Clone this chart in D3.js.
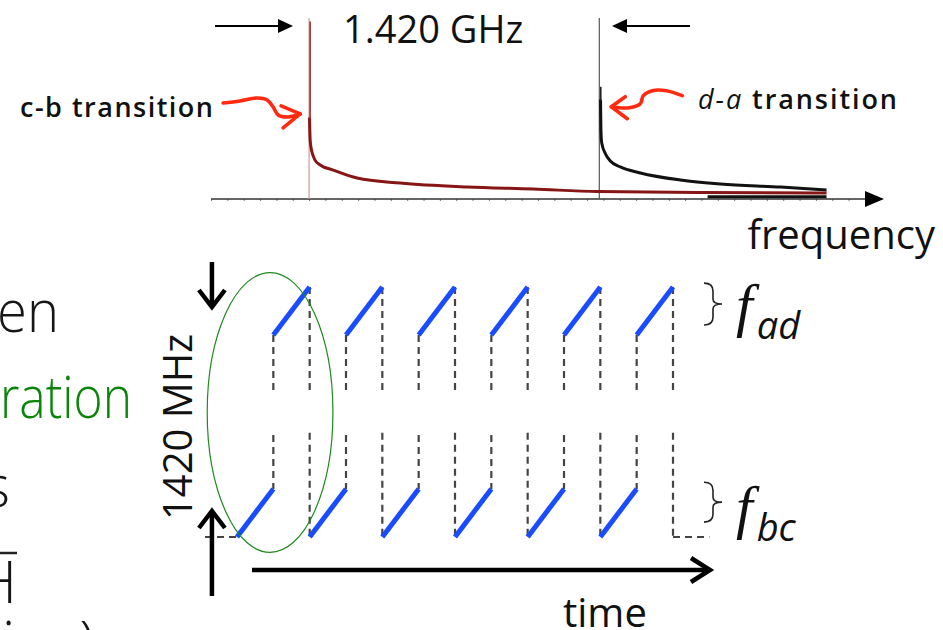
<!DOCTYPE html>
<html>
<head>
<meta charset="utf-8">
<script src="https://cdn.jsdelivr.net/npm/d3@7"></script>
<style>
  html, body { margin: 0; padding: 0; background: #fff; overflow: hidden; }
  svg { display: block; font-family: "Open Sans", sans-serif; }
</style>
</head>
<body>
<svg id="chart" width="943" height="630"></svg>
<script>
// ---- spectrum (top): frequency in GHz from the c-b line, amplitude normalised
const cbFreq = [0.002, 0.005, 0.010, 0.018, 0.029, 0.054, 0.118, 0.235, 0.446, 0.774, 1.097, 1.41, 1.915, 2.532];
const cbAmp  = [0.45, 0.33, 0.28, 0.245, 0.215, 0.188, 0.16, 0.116, 0.088, 0.066, 0.055, 0.041, 0.036, 0.033];
const daFreq = [1.426, 1.428, 1.432, 1.45, 1.474, 1.523, 1.621, 1.817, 2.013, 2.307, 2.532];
const daAmp  = [0.55, 0.38, 0.31, 0.25, 0.21, 0.177, 0.144, 0.105, 0.083, 0.066, 0.05];
const floorFreq = [1.95, 2.532];
const floorAmp  = [0.012, 0.012];
const lineFreqs  = [0, 1.42];
const lineColors = ["#d09a9a", "#555"];

// ---- sawtooth (bottom): time in half periods, frequency in band units
const bcSweeps = [0, 2, 4, 6, 8, 10];
const adSweeps = [1, 3, 5, 7, 9, 11];
const bcBand  = [0, 1];
const adBand  = [4.2, 5.2];
const gapBand = [2.12, 3.0];

const svg = d3.select("#chart");

// scales
const xF = d3.scaleLinear().domain([-0.48, 2.73]).range([211, 867]);
const yA = d3.scaleLinear().domain([0, 1]).range([199, 18]);
const xT = d3.scaleLinear().domain([0, 12]).range([237, 673]);
const yF = d3.scaleLinear().domain([0, 5.2]).range([537, 287]);

// ---------- top spectrum ----------
const spec = svg.append("g");

// small ticks on the frequency axis
spec.append("g")
    .attr("transform", `translate(0, ${yA(0)})`)
    .call(d3.axisBottom(xF).tickValues(d3.range(-0.48, 2.73, 0.08)).tickSize(2).tickFormat(""))
    .call(g => g.select(".domain").remove())
    .call(g => g.selectAll("line").attr("stroke", "#777"));

spec.append("line")
    .attr("x1", xF(-0.48)).attr("x2", xF(2.73))
    .attr("y1", yA(0)).attr("y2", yA(0))
    .attr("stroke", "#333").attr("stroke-width", 1.6);
spec.append("path")
    .attr("d", `M${xF(2.73) - 2},${yA(0) - 8} L${xF(2.73) + 17},${yA(0)} L${xF(2.73) - 2},${yA(0) + 8} Z`)
    .attr("fill", "#000");

// transition markers
spec.selectAll(".marker")
    .data(lineFreqs)
    .enter().append("line")
    .attr("class", "marker")
    .attr("x1", d => xF(d)).attr("x2", d => xF(d))
    .attr("y1", yA(0)).attr("y2", yA(1))
    .attr("stroke", (d, i) => lineColors[i])
    .attr("stroke-width", 1.2);

const specLine = d3.line().x(d => xF(d[0])).y(d => yA(d[1])).curve(d3.curveMonotoneX);

spec.append("path")
    .attr("d", specLine(floorFreq.map((f, i) => [f, floorAmp[i]])))
    .attr("fill", "none").attr("stroke", "#111").attr("stroke-width", 3);

spec.append("path")
    .attr("d", specLine(daFreq.map((f, i) => [f, daAmp[i]])))
    .attr("fill", "none").attr("stroke", "#111").attr("stroke-width", 3);

spec.append("path")
    .attr("d", specLine(cbFreq.map((f, i) => [f, cbAmp[i]])))
    .attr("fill", "none").attr("stroke", "#861616").attr("stroke-width", 3);

// thin peak tops
spec.append("line")
    .attr("x1", xF(0) + 1).attr("x2", xF(0) + 1)
    .attr("y1", yA(0.98)).attr("y2", yA(0.44))
    .attr("stroke", "#9a3030").attr("stroke-width", 1.6);
spec.append("line")
    .attr("x1", xF(1.42) + 1.5).attr("x2", xF(1.42) + 1.5)
    .attr("y1", yA(0.62)).attr("y2", yA(0.54))
    .attr("stroke", "#222").attr("stroke-width", 1.6);

// span arrows
const arrowY = 26;
spec.append("line").attr("x1", 215).attr("x2", 280).attr("y1", arrowY).attr("y2", arrowY)
    .attr("stroke", "#000").attr("stroke-width", 2);
spec.append("path").attr("d", `M278,${arrowY - 7} L293,${arrowY} L278,${arrowY + 7} Z`).attr("fill", "#000");
spec.append("line").attr("x1", 625).attr("x2", 690).attr("y1", arrowY).attr("y2", arrowY)
    .attr("stroke", "#000").attr("stroke-width", 2);
spec.append("path").attr("d", `M627,${arrowY - 7} L612,${arrowY} L627,${arrowY + 7} Z`).attr("fill", "#000");

spec.append("text")
    .attr("x", 343).attr("y", 43)
    .attr("font-size", 38).attr("fill", "#111")
    .text("1.420 GHz");

// hand drawn red pointers
const hand = d3.line().curve(d3.curveCatmullRom);
const cbTip = [xF(0) - 9, yA(0.47)];
const cbPts = [[-77, -11], [-60, -13], [-43, -16], [-33, -14], [-27, -7], [-22, 1], [-13, 3], [0, 0]];
spec.append("path")
    .attr("d", hand(cbPts.map(p => [cbTip[0] + p[0], cbTip[1] + p[1]])))
    .attr("fill", "none").attr("stroke", "#ff2a10").attr("stroke-width", 3.6)
    .attr("stroke-linecap", "round");
spec.append("path")
    .attr("d", `M${cbTip[0] - 19},${cbTip[1] - 8} L${cbTip[0]},${cbTip[1]} L${cbTip[0] - 17},${cbTip[1] + 14}`)
    .attr("fill", "none").attr("stroke", "#ff2a10").attr("stroke-width", 3.6)
    .attr("stroke-linecap", "round").attr("stroke-linejoin", "round");

const daTip = [xF(1.42) + 12, yA(0.51)];
const daPts = [[71, -11], [55, -16], [41, -16], [32, -11], [29, -3], [18, 1], [0, 0]];
spec.append("path")
    .attr("d", hand(daPts.map(p => [daTip[0] + p[0], daTip[1] + p[1]])))
    .attr("fill", "none").attr("stroke", "#ff2a10").attr("stroke-width", 3.6)
    .attr("stroke-linecap", "round");
spec.append("path")
    .attr("d", `M${daTip[0] + 14},${daTip[1] - 10} L${daTip[0]},${daTip[1]} L${daTip[0] + 16},${daTip[1] + 12}`)
    .attr("fill", "none").attr("stroke", "#ff2a10").attr("stroke-width", 3.6)
    .attr("stroke-linecap", "round").attr("stroke-linejoin", "round");

spec.append("text")
    .attr("x", 20).attr("y", 117)
    .attr("font-size", 27).attr("font-weight", 600).attr("fill", "#111")
    .attr("textLength", 193).attr("lengthAdjust", "spacing")
    .text("c-b transition");

const da = spec.append("text")
    .attr("x", 698).attr("y", 109)
    .attr("font-size", 27).attr("font-weight", 600).attr("fill", "#111")
    .attr("textLength", 199).attr("lengthAdjust", "spacing");
da.append("tspan").attr("font-style", "italic").attr("font-weight", 400).text("d-a");
da.append("tspan").text(" transition");

spec.append("text")
    .attr("x", 935).attr("y", 249).attr("text-anchor", "end")
    .attr("font-size", 40).attr("fill", "#111")
    .text("frequency");

// ---------- bottom sawtooth ----------
const bot = svg.append("g");
const dashed = (sel) => sel.attr("fill", "none").attr("stroke", "#444")
    .attr("stroke-width", 2.2).attr("stroke-dasharray", "7,5");

// jumps at the start of each a-d sweep
adSweeps.forEach(t => {
    bot.append("line").call(dashed)
        .attr("x1", xT(t)).attr("x2", xT(t)).attr("y1", yF(adBand[0])).attr("y2", yF(gapBand[1]));
    bot.append("line").call(dashed)
        .attr("x1", xT(t)).attr("x2", xT(t)).attr("y1", yF(gapBand[0])).attr("y2", yF(bcBand[1]));
});
// jumps at the end of each a-d sweep
adSweeps.map(t => t + 1).forEach(t => {
    bot.append("line").call(dashed)
        .attr("x1", xT(t)).attr("x2", xT(t)).attr("y1", yF(adBand[1])).attr("y2", yF(gapBand[1]));
    bot.append("line").call(dashed)
        .attr("x1", xT(t)).attr("x2", xT(t)).attr("y1", yF(gapBand[0] + 0.05)).attr("y2", yF(bcBand[0]));
});
bot.append("line").call(dashed)
    .attr("x1", xT(-0.88)).attr("x2", xT(0)).attr("y1", yF(0)).attr("y2", yF(0));
bot.append("line").call(dashed)
    .attr("x1", xT(12)).attr("x2", xT(13)).attr("y1", yF(0)).attr("y2", yF(0));

// sweeps
bot.selectAll(".bc")
    .data(bcSweeps)
    .enter().append("line")
    .attr("class", "bc")
    .attr("x1", d => xT(d)).attr("x2", d => xT(d + 1))
    .attr("y1", yF(bcBand[0])).attr("y2", yF(bcBand[1]))
    .attr("stroke", "#1a4cff").attr("stroke-width", 5);
bot.selectAll(".ad")
    .data(adSweeps)
    .enter().append("line")
    .attr("class", "ad")
    .attr("x1", d => xT(d)).attr("x2", d => xT(d + 1))
    .attr("y1", yF(adBand[0])).attr("y2", yF(adBand[1]))
    .attr("stroke", "#1a4cff").attr("stroke-width", 5);

// braces and labels
const brace = (x, y0, y1) => {
    const m = (y0 + y1) / 2;
    return `M${x},${y0} Q${x + 9},${y0} ${x + 9},${y0 + 8} L${x + 9},${m - 5} Q${x + 9},${m} ${x + 18},${m}` +
        ` Q${x + 9},${m} ${x + 9},${m + 5} L${x + 9},${y1 - 8} Q${x + 9},${y1} ${x},${y1}`;
};
bot.append("path").attr("d", brace(704, yF(5.28), yF(4.41)))
    .attr("fill", "none").attr("stroke", "#222").attr("stroke-width", 1.6);
bot.append("path").attr("d", brace(704, yF(1.14), yF(0.31)))
    .attr("fill", "none").attr("stroke", "#222").attr("stroke-width", 1.6);

const fLabel = (y, sub) => {
    const t = bot.append("text").attr("x", 736).attr("y", y).attr("fill", "#111");
    t.append("tspan").attr("font-family", "Liberation Serif").attr("font-style", "italic")
        .attr("font-size", 60).text("f");
    t.append("tspan").attr("font-style", "italic").attr("font-size", 38).attr("dx", 4).attr("dy", 14).text(sub);
};
fLabel(325, "ad");
fLabel(527, "bc");

// green ellipse
bot.append("ellipse")
    .attr("cx", xT(0.91)).attr("cy", yF(2.59))
    .attr("rx", xT(1.73) - xT(0)).attr("ry", yF(0) - yF(2.91))
    .attr("fill", "none").attr("stroke", "#1f8a1f").attr("stroke-width", 1.2);

// axis arrows
const heavy = (sel) => sel.attr("fill", "none").attr("stroke", "#000").attr("stroke-width", 4.5)
    .attr("stroke-linejoin", "miter");
const ax = xT(-0.69);
bot.append("line").call(heavy).attr("x1", ax).attr("x2", ax).attr("y1", 262).attr("y2", 306);
bot.append("path").call(heavy).attr("d", `M${ax - 13},${290} L${ax},${307} L${ax + 13},${290}`);
bot.append("line").call(heavy).attr("x1", ax).attr("x2", ax).attr("y1", 596).attr("y2", 512);
bot.append("path").call(heavy).attr("d", `M${ax - 13},${528} L${ax},${511} L${ax + 13},${528}`);

bot.append("text")
    .attr("transform", `translate(192, 427) rotate(-90)`)
    .attr("text-anchor", "middle").attr("font-size", 40).attr("fill", "#111")
    .text("1420 MHz");

bot.append("line").call(heavy).attr("x1", 252).attr("x2", 710).attr("y1", 570).attr("y2", 570);
bot.append("path").call(heavy).attr("d", `M691,558 L710,570 L691,582`);

bot.append("text")
    .attr("x", 563).attr("y", 627)
    .attr("font-size", 40).attr("fill", "#111")
    .text("time");

// ---------- cut-off slide text on the left ----------
const left = svg.append("g").attr("font-weight", 300).attr("font-size", 58).attr("fill", "#161616");
left.append("text").attr("x", -3).attr("y", 332)
    .attr("textLength", 62).attr("lengthAdjust", "spacingAndGlyphs").text("en");
left.append("text").attr("x", 0).attr("y", 418).attr("fill", "#0a850a")
    .attr("textLength", 132).attr("lengthAdjust", "spacingAndGlyphs").text("ration");
left.append("text").attr("x", 10).attr("y", 507).attr("text-anchor", "end").text("s");
left.append("text").attr("x", 17).attr("y", 603).attr("text-anchor", "end").text("H");
left.append("line").attr("x1", 0).attr("x2", 17).attr("y1", 553).attr("y2", 553)
    .attr("stroke", "#222").attr("stroke-width", 2.5);
left.append("text").attr("x", 2).attr("y", 663).text("ing)");
</script>
</body>
</html>
